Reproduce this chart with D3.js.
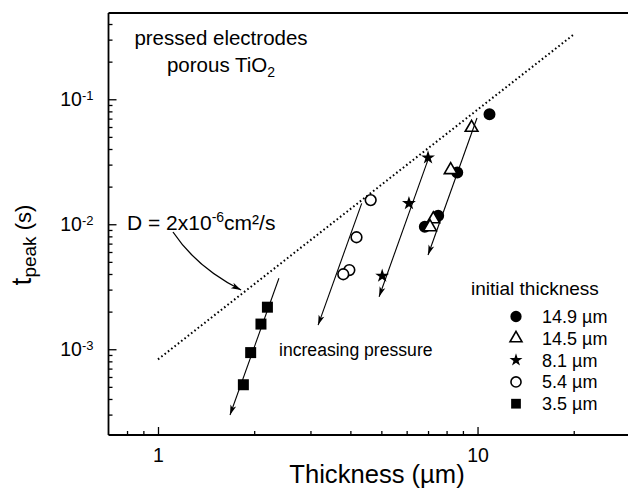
<!DOCTYPE html>
<html><head><meta charset="utf-8">
<script src="https://cdn.jsdelivr.net/npm/d3@7"></script>
<style>
body{margin:0;background:#fff}
svg{display:block;font-family:"Liberation Sans",Arial,Helvetica,sans-serif}
</style>
</head><body>
<svg id="chart" width="628" height="496"></svg>
<script>
// ---------- data ----------
const legendLabels = ["14.9 µm", "14.5 µm", "8.1 µm", "5.4 µm", "3.5 µm"];
const s149 = [[10.9, 0.0759], [8.64, 0.0259], [7.53, 0.01172], [6.84, 0.00957]];
const s145 = [[9.58, 0.0593], [8.24, 0.0272], [7.27, 0.0110], [7.10, 0.0095]];
const s81  = [[7.0, 0.0341], [6.1, 0.0147], [5.03, 0.00386]];
const s54  = [[4.63, 0.0156], [4.18, 0.00787], [3.97, 0.0043], [3.80, 0.00398]];
const s35  = [[2.20, 0.00217], [2.10, 0.00159], [1.95, 0.00094], [1.85, 0.00052]];
const pressureArrows = [
  [[9.96, 0.0708], [7.0, 0.00568]],
  [[7.05, 0.0346], [4.92, 0.00263]],
  [[4.34, 0.0147], [3.17, 0.00156]],
  [[2.39, 0.0037], [1.68, 0.000298]]
];
const diffusionLine = [[1, 8.3e-4], [20, 0.33]];
const curvedArrow = [[1.114, 0.00867], [1.325, 0.00447], [1.82, 0.00298]]; // start, control, end
const xMajorTicks = [1, 10];
const xMinorTicks = [0.8, 0.9, 2, 3, 4, 5, 6, 7, 8, 9, 20];
const yMajorTicks = [1e-3, 1e-2, 1e-1];
const yMinorTicks = [3e-4, 4e-4, 5e-4, 6e-4, 7e-4, 8e-4, 9e-4,
                     2e-3, 3e-3, 4e-3, 5e-3, 6e-3, 7e-3, 8e-3, 9e-3,
                     2e-2, 3e-2, 4e-2, 5e-2, 6e-2, 7e-2, 8e-2, 9e-2,
                     0.2, 0.3, 0.4];

// ---------- setup ----------
const svg = d3.select("#chart");
const x = d3.scaleLog().domain([0.7, 30]).range([108.5, 630]);
const y = d3.scaleLog().domain([2.06e-4, 0.49]).range([435, 13]);
const L = x.range()[0], B = y.range()[0], T = y.range()[1];

const defs = svg.append("defs");
defs.append("marker").attr("id", "ah").attr("markerUnits", "userSpaceOnUse")
  .attr("viewBox", "-11 -4 12 8").attr("refX", 0).attr("refY", 0)
  .attr("markerWidth", 12).attr("markerHeight", 8).attr("orient", "auto")
  .append("path").attr("d", "M0,0 L-10,-3 L-7.5,0 L-10,3 Z").attr("fill", "#000");

// frame
const frame = svg.append("g").attr("stroke", "#000").attr("stroke-width", 1.8).attr("fill", "none");
frame.append("line").attr("x1", L).attr("x2", 628).attr("y1", T).attr("y2", T);
frame.append("line").attr("x1", L).attr("x2", L).attr("y1", T).attr("y2", B);
frame.append("line").attr("x1", L).attr("x2", 628).attr("y1", B).attr("y2", B);

// axes
function styleAxis(g) {
  g.select(".domain").remove();
  g.selectAll(".tick line").attr("stroke", "#000").attr("stroke-width", 1.3);
  g.selectAll("text").attr("fill", "#000").style("font-size", "19.5px")
    .style("font-family", '"Liberation Sans",Arial,sans-serif');
}
svg.append("g").attr("transform", `translate(0,${B})`)
  .call(d3.axisBottom(x).tickValues(xMinorTicks).tickSizeInner(-4).tickSizeOuter(0).tickFormat(""))
  .call(styleAxis);
svg.append("g").attr("transform", `translate(0,${B})`)
  .call(d3.axisBottom(x).tickValues(xMajorTicks).tickSizeInner(-8).tickSizeOuter(0).tickPadding(13)
    .tickFormat(d3.format("d")))
  .call(styleAxis);
svg.append("g").attr("transform", `translate(${L},0)`)
  .call(d3.axisLeft(y).tickValues(yMinorTicks).tickSizeInner(-4).tickSizeOuter(0).tickFormat(""))
  .call(styleAxis);
const yAx = svg.append("g").attr("transform", `translate(${L},0)`)
  .call(d3.axisLeft(y).tickValues(yMajorTicks).tickSizeInner(-8).tickSizeOuter(0).tickPadding(15)
    .tickFormat(""))
  .call(styleAxis);
yAx.selectAll(".tick text").each(function(d) {
  const t = d3.select(this);
  t.text("10");
  t.append("tspan").attr("dy", "-0.45em").style("font-size", "13px").text(Math.round(Math.log10(d)));
});

// axis titles
svg.append("text").attr("x", 377).attr("y", 483).attr("text-anchor", "middle")
  .style("font-size", "25.6px").text("Thickness (µm)");
const yt = svg.append("text").attr("transform", "translate(31,245) rotate(-90)")
  .attr("text-anchor", "middle");
yt.append("tspan").style("font-size", "28px").text("t");
yt.append("tspan").style("font-size", "19px").attr("dy", "5").text("peak");
yt.append("tspan").style("font-size", "22px").attr("dy", "-5").text(" (s)");

// diffusion line (dotted)
svg.append("path").datum(diffusionLine)
  .attr("d", d3.line().x(d => x(d[0])).y(d => y(d[1])))
  .attr("fill", "none").attr("stroke", "#000").attr("stroke-width", 2)
  .attr("stroke-dasharray", "1.6 2.6");

// markers
const sym = (type, size) => d3.symbol().type(type).size(size);
function plot(data, type, size, fill, stroke) {
  svg.append("g").selectAll("path").data(data).join("path")
    .attr("transform", d => `translate(${x(d[0])},${y(d[1])})`)
    .attr("d", sym(type, size)())
    .attr("fill", fill).attr("stroke", stroke).attr("stroke-width", 1.6);
}
plot(s149, d3.symbolCircle, 113, "#000", "none");
plot(s145, d3.symbolTriangle, 70, "#fff", "#000");
plot(s81, d3.symbolStar, 60, "#000", "none");
plot(s54, d3.symbolCircle, 90, "#fff", "#000");
plot(s35, d3.symbolSquare, 121, "#000", "none");

// pressure arrows
svg.append("g").selectAll("path").data(pressureArrows).join("path")
  .attr("d", d3.line().x(d => x(d[0])).y(d => y(d[1])))
  .attr("fill", "none").attr("stroke", "#000").attr("stroke-width", 1.1)
  .attr("marker-end", "url(#ah)");

// curved arrow
const ca = curvedArrow.map(d => [x(d[0]), y(d[1])]);
svg.append("path")
  .attr("d", `M${ca[0][0]},${ca[0][1]} Q${ca[1][0]},${ca[1][1]} ${ca[2][0]},${ca[2][1]}`)
  .attr("fill", "none").attr("stroke", "#000").attr("stroke-width", 1.3)
  .attr("marker-end", "url(#ah)");

// annotations
svg.append("text").attr("x", 221).attr("y", 45).attr("text-anchor", "middle")
  .style("font-size", "20.5px").text("pressed electrodes");
const tio = svg.append("text").attr("x", 221).attr("y", 72).attr("text-anchor", "middle")
  .style("font-size", "20.5px");
tio.append("tspan").text("porous TiO");
tio.append("tspan").attr("dy", 5).style("font-size", "14px").text("2");

const dl = svg.append("text").attr("x", 127).attr("y", 230).style("font-size", "21px");
dl.append("tspan").text("D = 2x10");
dl.append("tspan").attr("dy", -8).style("font-size", "14px").text("-6");
dl.append("tspan").attr("dy", 8).text("cm²/s");

svg.append("text").attr("x", 279).attr("y", 356).style("font-size", "17.6px").text("increasing pressure");

// legend
svg.append("text").attr("x", 471).attr("y", 295).style("font-size", "19px").text("initial thickness");
const legendSyms = [
  [d3.symbolCircle, 100, "#000", "none"],
  [d3.symbolTriangle, 62, "#fff", "#000"],
  [d3.symbolStar, 52, "#000", "none"],
  [d3.symbolCircle, 80, "#fff", "#000"],
  [d3.symbolSquare, 95, "#000", "none"]
];
const lg = svg.append("g").selectAll("g").data(legendLabels).join("g")
  .attr("transform", (d, i) => `translate(516,${316.5 + i * 21.8})`);
lg.append("path").attr("d", (d, i) => sym(legendSyms[i][0], legendSyms[i][1])())
  .attr("fill", (d, i) => legendSyms[i][2]).attr("stroke", (d, i) => legendSyms[i][3]).attr("stroke-width", 1.6);
lg.append("text").attr("x", 26).attr("y", 6.5).style("font-size", "18px").text(d => d);
</script>
</body></html>
